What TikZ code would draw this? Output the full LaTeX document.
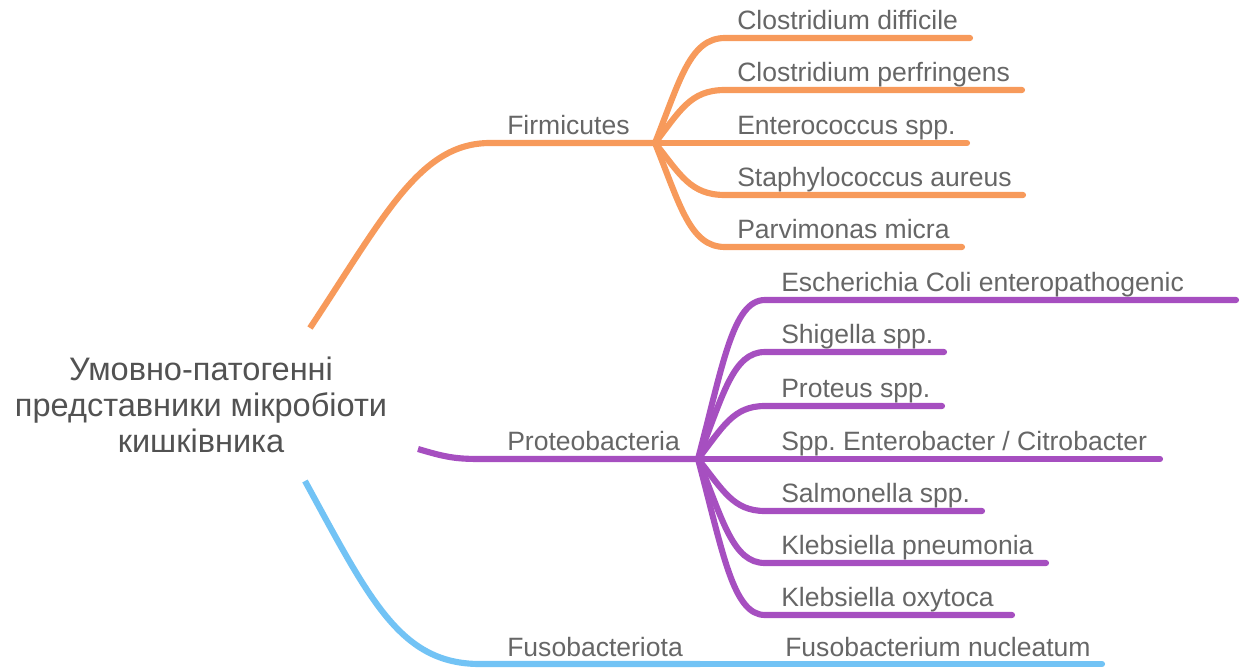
\documentclass[tikz,border=0pt]{standalone}
\usepackage{fontspec}
\setmainfont{Liberation Sans}
\frenchspacing
\definecolor{orng}{HTML}{F79A5B}
\definecolor{purp}{HTML}{A64FC0}
\definecolor{skyb}{HTML}{72C3F5}
\definecolor{txt}{HTML}{666666}
\begin{document}
\begin{tikzpicture}[x=0.75pt,y=-0.75pt,
  leaf/.style={anchor=base west, inner sep=0, text=txt, font=\fontsize{19.9}{24}\selectfont},
  rootbox/.style={anchor=north, align=center, inner sep=0, text=txt!80!black, font=\fontsize{24.4}{27}\selectfont},
  mainline/.style={line width=4.6pt, line cap=butt, line join=round},
  kidline/.style={line width=4.6pt, line cap=round, line join=round},
]
\useasboundingbox (0,0) rectangle (1241,671);

% root
\node[rootbox] (root) at (201,357) {Умовно-патогенні\\представники мікробіоти\\кишківника};

% named points
\coordinate (fs) at (310,328);
\coordinate (fh) at (655,143);
\coordinate (ps) at (418,449);
\coordinate (ph) at (698,459);
\coordinate (bs) at (305,481);
\coordinate (bh) at (700,664);

% branch labels
\node[leaf] (firm) at (507,134) {Firmicutes};
\node[leaf] (prot) at (507,450) {Proteobacteria};
\node[leaf] (fuso) at (507,656) {Fusobacteriota};

% main branches
\draw[mainline, orng] (fs) .. controls (385,215) and (420,143) .. (490,143) -- (fh);
\draw[mainline, purp] (ps) .. controls (445,457) and (455,459) .. (480,459) -- (ph);
\draw[mainline, skyb] (bs) .. controls (370,600) and (400,664) .. (480,664) -- (bh);

% Firmicutes children
\node[leaf] (fa) at (737,29) {Clostridium difficile};
\node[leaf] (fb) at (737,81) {Clostridium perfringens};
\node[leaf] (fc) at (737,134) {Enterococcus spp.};
\node[leaf] (fd) at (737,186) {Staphylococcus aureus};
\node[leaf] (fe) at (737,238) {Parvimonas micra};
\coordinate (fae) at (970,38);
\coordinate (fbe) at (1022,90);
\coordinate (fce) at (967,143);
\coordinate (fde) at (1023,195);
\coordinate (fee) at (962,247);
\draw[kidline, orng] (fh) .. controls (680,80) and (690,38) .. (725,38) -- (fae);
\draw[kidline, orng] (fh) .. controls (680,111) and (690,90) .. (725,90) -- (fbe);
\draw[kidline, orng] (fh) -- (fce);
\draw[kidline, orng] (fh) .. controls (680,174) and (690,195) .. (725,195) -- (fde);
\draw[kidline, orng] (fh) .. controls (680,205) and (690,247) .. (725,247) -- (fee);

% Proteobacteria children
\node[leaf] (pa) at (781,291) {Escherichia Coli enteropathogenic};
\node[leaf] (pb) at (781,343) {Shigella spp.};
\node[leaf] (pc) at (781,397) {Proteus spp.};
\node[leaf] (pd) at (781,450) {Spp. Enterobacter / Citrobacter};
\node[leaf] (pe) at (781,502) {Salmonella spp.};
\node[leaf] (pf) at (781,554) {Klebsiella pneumonia};
\node[leaf] (pg) at (781,606) {Klebsiella oxytoca};
\coordinate (pae) at (1236,300);
\coordinate (pbe) at (944,352);
\coordinate (pce) at (942,406);
\coordinate (pde) at (1160,459);
\coordinate (pee) at (982,511);
\coordinate (pfe) at (1046,563);
\coordinate (pge) at (1012,615);
\draw[kidline, purp] (ph) .. controls (723,364) and (733,300) .. (765,300) -- (pae);
\draw[kidline, purp] (ph) .. controls (723,395) and (733,352) .. (765,352) -- (pbe);
\draw[kidline, purp] (ph) .. controls (723,427) and (733,406) .. (765,406) -- (pce);
\draw[kidline, purp] (ph) -- (pde);
\draw[kidline, purp] (ph) .. controls (723,490) and (733,511) .. (765,511) -- (pee);
\draw[kidline, purp] (ph) .. controls (723,521) and (733,563) .. (765,563) -- (pfe);
\draw[kidline, purp] (ph) .. controls (723,553) and (733,615) .. (765,615) -- (pge);

% Fusobacteriota child
\node[leaf] (fn) at (785,656) {Fusobacterium nucleatum};
\coordinate (fne) at (1102,664);
\draw[kidline, skyb] (bh) -- (fne);
\end{tikzpicture}
\end{document}
